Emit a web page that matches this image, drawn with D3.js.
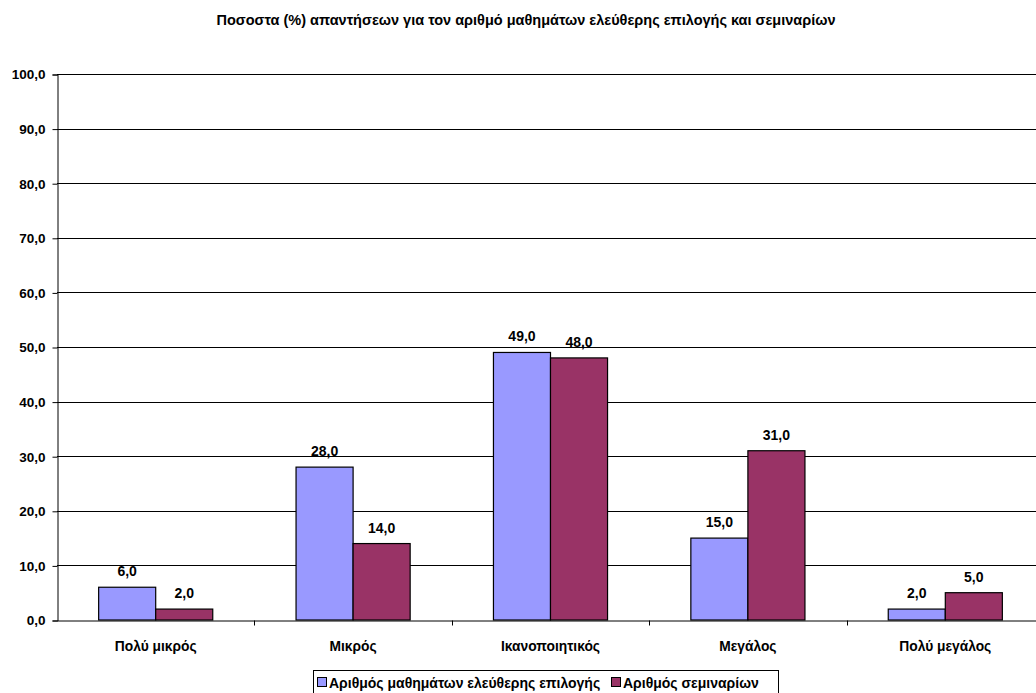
<!DOCTYPE html>
<html>
<head>
<meta charset="utf-8">
<script src="https://cdn.jsdelivr.net/npm/d3@7"></script>
<style>
body { margin: 0; background: #fff; }
text { font-family: "Liberation Sans", Arial, sans-serif; font-weight: bold; }
</style>
</head>
<body>
<div id="chart"></div>
<script>
// chart data
var categories = ["Πολύ μικρός", "Μικρός", "Ικανοποιητικός", "Μεγάλος", "Πολύ μεγάλος"];
var seriesNames = ["Αριθμός μαθημάτων ελεύθερης επιλογής", "Αριθμός σεμιναρίων"];
var electiveValues = [6.0, 28.0, 49.0, 15.0, 2.0];
var seminarValues = [2.0, 14.0, 48.0, 31.0, 5.0];
var yTicks = [0, 10, 20, 30, 40, 50, 60, 70, 80, 90, 100];
var colors = ["#9999ff", "#993366"];

var Width = 1036, Height = 693;
var Left = 57, Right = 1044, Top = 74, Bottom = 620;

var svg = d3.select("#chart").append("svg")
    .attr("width", Width).attr("height", Height);

var fmt = function(v) { return v.toFixed(1).replace(".", ","); };

var xScale = d3.scaleBand().domain(categories).range([Left, Right]);
var inner = d3.scaleBand().domain([0, 1])
    .range([0, xScale.bandwidth()]).paddingOuter(0.73).paddingInner(0);
var yScale = d3.scaleLinear().domain([0, 100]).range([Bottom, Top]);

// title
svg.append("text")
    .attr("x", 526).attr("y", 25)
    .attr("text-anchor", "middle")
    .attr("font-size", "14.5px")
    .text("Ποσοστα (%) απαντήσεων για τον αριθμό μαθημάτων ελεύθερης επιλογής και σεμιναρίων");

// gridlines
svg.append("g").selectAll("line")
    .data(yTicks.slice(1)).enter().append("line")
    .attr("x1", Left).attr("x2", Right)
    .attr("y1", function(d) { return Math.round(yScale(d)) + 0.5; })
    .attr("y2", function(d) { return Math.round(yScale(d)) + 0.5; })
    .attr("stroke", "#000").attr("stroke-width", 1);

// y axis
var yAxis = d3.axisLeft(yScale).tickValues(yTicks).tickSize(5).tickFormat(fmt);
var yg = svg.append("g")
    .attr("transform", "translate(" + (Left + 0.5) + ",0.5)")
    .call(yAxis);
yg.select(".domain").attr("stroke", "#000");
yg.selectAll("text").attr("font-size", "13.5px").attr("fill", "#000").attr("dx", "-4");

// x axis
var xAxis = d3.axisBottom(xScale).tickSize(0).tickFormat(function(d) { return d; });
var xg = svg.append("g")
    .attr("transform", "translate(0," + (Bottom + 0.5) + ")")
    .call(xAxis);
xg.select(".domain").attr("stroke", "#000");
xg.selectAll("text").attr("font-size", "13.8px").attr("fill", "#000")
    .attr("dy", null).attr("y", 30);
// category separator ticks
xg.append("g").selectAll("line")
    .data(categories.slice(1)).enter().append("line")
    .attr("x1", function(d) { return Math.round(xScale(d)) + 0.5; })
    .attr("x2", function(d) { return Math.round(xScale(d)) + 0.5; })
    .attr("y1", 0).attr("y2", 5).attr("stroke", "#000");

// bars
var rows = categories.map(function(c, i) {
    return { cat: c, vals: [electiveValues[i], seminarValues[i]] };
});
var groups = svg.append("g").selectAll("g")
    .data(rows).enter().append("g")
    .attr("transform", function(d) { return "translate(" + xScale(d.cat) + ",0)"; });

groups.selectAll("rect")
    .data(function(d) { return d.vals.map(function(v, j) { return { v: v, s: j }; }); })
    .enter().append("rect")
    .attr("x", function(d) { return inner(d.s); })
    .attr("y", function(d) { return yScale(d.v); })
    .attr("width", inner.bandwidth())
    .attr("height", function(d) { return Bottom - yScale(d.v); })
    .attr("fill", function(d) { return colors[d.s]; })
    .attr("stroke", "#000").attr("stroke-width", 1.2);

groups.selectAll("text.val")
    .data(function(d) { return d.vals.map(function(v, j) { return { v: v, s: j }; }); })
    .enter().append("text")
    .attr("class", "val")
    .attr("x", function(d) { return inner(d.s) + inner.bandwidth() / 2; })
    .attr("y", function(d) { return yScale(d.v) - 11; })
    .attr("text-anchor", "middle")
    .attr("font-size", "14px")
    .text(function(d) { return fmt(d.v); });

// legend
var legend = svg.append("g");
legend.append("rect")
    .attr("x", 313.5).attr("y", 670.5).attr("width", 465).attr("height", 30)
    .attr("fill", "#fff").attr("stroke", "#000");
var lx = [317, 611];
seriesNames.forEach(function(name, i) {
    legend.append("rect")
        .attr("x", lx[i] + 0.5).attr("y", 677.5).attr("width", 9).attr("height", 9)
        .attr("fill", colors[i]).attr("stroke", "#000");
    legend.append("text")
        .attr("x", lx[i] + 12).attr("y", 688)
        .attr("font-size", "14px")
        .text(name);
});
</script>
</body>
</html>
